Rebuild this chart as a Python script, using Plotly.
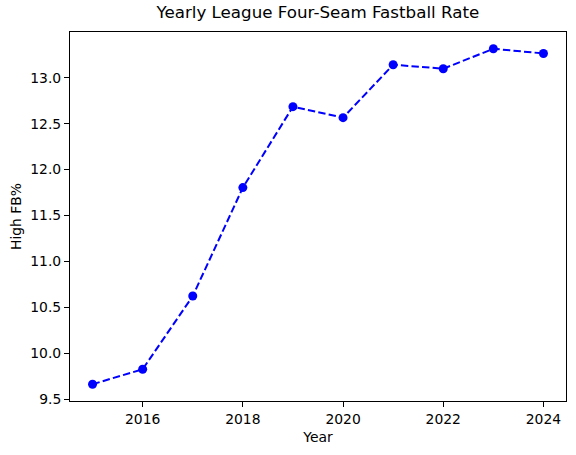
import plotly.graph_objects as go

years = [2015, 2016, 2017, 2018, 2019, 2020, 2021, 2022, 2023, 2024]
high_fb = [9.663, 9.826, 10.623, 11.804, 12.685, 12.565, 13.141, 13.098, 13.315, 13.264]
x_ticks = [2016, 2018, 2020, 2022, 2024]
y_ticks = [9.5, 10.0, 10.5, 11.0, 11.5, 12.0, 12.5, 13.0]

W, H = 576, 455
ml, mr, mt, mb = 70, 10.3, 32.3, 53.5

fig = go.Figure()
fig.add_trace(go.Scatter(
    x=years, y=high_fb, mode="lines+markers",
    line=dict(color="blue", width=2, dash="7.4px,3.2px"),
    marker=dict(color="blue", size=9, line=dict(width=0)),
    showlegend=False,
))

font = "DejaVu Sans"
axis_common = dict(
    showline=True, linecolor="black", linewidth=1, mirror=True,
    ticks="outside", ticklen=5, tickwidth=1, tickcolor="black",
    showgrid=False, zeroline=False, automargin=False,
    tickfont=dict(family=font, size=13.9, color="black"),
)
ymin, ymax = min(high_fb), max(high_fb)
pad = (ymax - ymin) * 0.05
xmin, xmax = min(years), max(years)
xpad = (xmax - xmin) * 0.05

fig.update_layout(
    width=W, height=H,
    margin=dict(l=ml, r=mr, t=mt, b=mb, autoexpand=False),
    paper_bgcolor="white", plot_bgcolor="white",
    title=dict(text="Yearly League Four-Seam Fastball Rate",
               font=dict(family=font, size=16.7, color="black"),
               x=(ml + (W - ml - mr) / 2) / W, xanchor="center",
               y=1 - 12.5 / H, yanchor="middle", automargin=False),
    xaxis=dict(range=[xmin - xpad, xmax + xpad], tickvals=x_ticks,
               ticktext=[str(t) for t in x_ticks],
               title=dict(text="Year", font=dict(family=font, size=13.9, color="black"), standoff=6),
               **axis_common),
    yaxis=dict(range=[ymin - pad, ymax + pad], tickvals=y_ticks,
               ticktext=[f"{t:.1f}" for t in y_ticks],
               title=dict(text="High FB%", font=dict(family=font, size=13.9, color="black"), standoff=5),
               **axis_common),
)
fig.write_html("out.html", config={"displayModeBar": False})

with open("out.html", encoding="utf-8") as f:
    html = f.read()
html = html.replace("<body>", '<body style="margin:0;padding:0;overflow:hidden">', 1)
with open("out.html", "w", encoding="utf-8") as f:
    f.write(html)
